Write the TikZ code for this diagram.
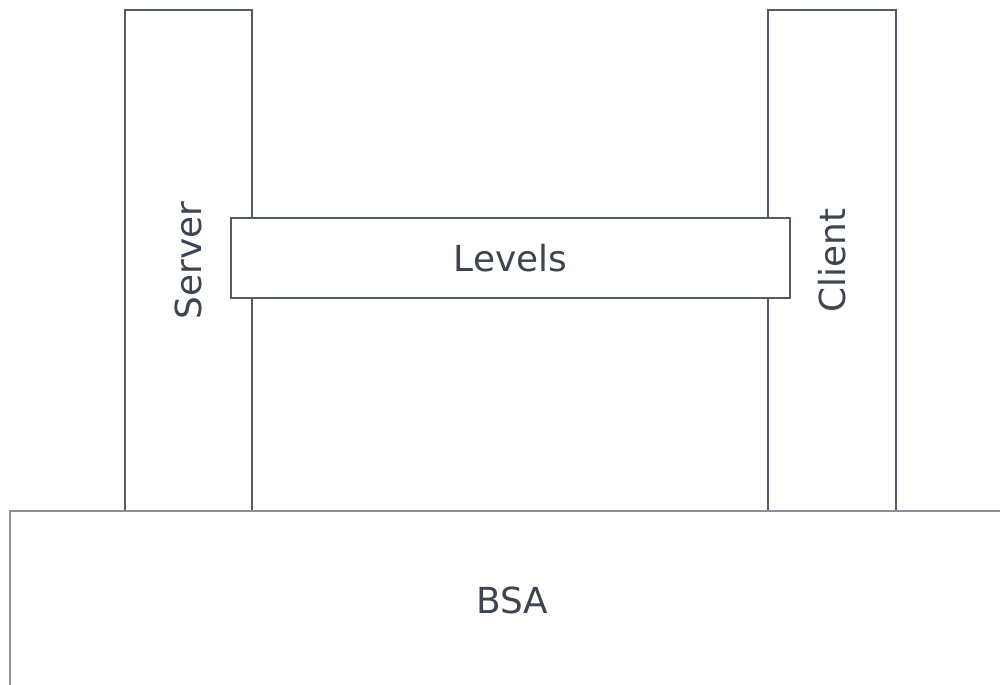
\documentclass[tikz,border=0pt]{standalone}
\usepackage{fontspec}
\setmainfont{DejaVu Sans}
\usepackage{tikz}
\definecolor{edge}{HTML}{535B66}
\definecolor{baseedge}{HTML}{8A9097}
\definecolor{ink}{HTML}{3C4550}
\tikzset{
	block/.style = {draw = edge, line width = 0.65pt, text = ink, inner sep = 0pt,
		font = \fontsize{10.2}{12}\selectfont}
}

\begin{document}
\begin{tikzpicture}[x = 0.01cm, y = -0.01cm]
		\useasboundingbox (0,0) rectangle (1000,684);
		\clip (0,0) rectangle (1000,684);
		\node[block, rotate = 90, minimum width = 5.01cm, minimum height = 1.27cm] (server) at (188.5,260.5) {Server};
		\node[block, rotate = 90, minimum width = 5.01cm, minimum height = 1.28cm] (client) at (832,260.5) {Client};
		\node[block, draw = baseedge, minimum width = 10.04cm, minimum height = 1.79cm] (bsa) at (512,600.5) {BSA};
		\node[block, fill = white, minimum width = 5.59cm, minimum height = 0.80cm] (levels) at (510.5,258) {Levels};
	\end{tikzpicture}
\end{document}
